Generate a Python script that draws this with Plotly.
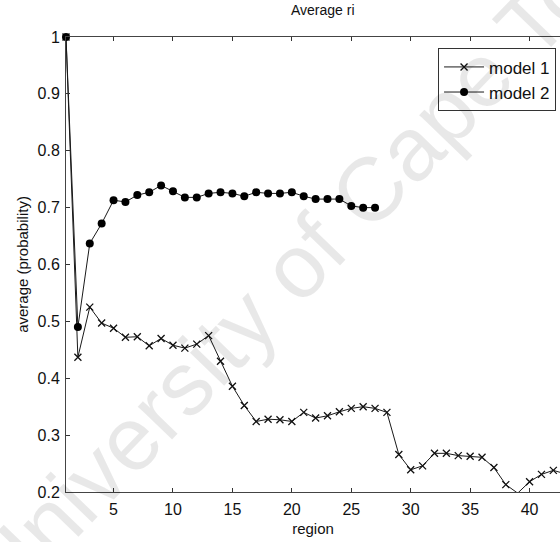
import plotly.graph_objects as go

# region index and average probability per model
regions_m1 = list(range(1, 44))
model1 = [1.0, 0.437, 0.525, 0.497, 0.488, 0.472, 0.473, 0.457, 0.470, 0.458,
          0.453, 0.460, 0.475, 0.430, 0.386, 0.352, 0.324, 0.328, 0.327, 0.324,
          0.340, 0.330, 0.334, 0.341, 0.347, 0.350, 0.347, 0.340, 0.266, 0.239,
          0.246, 0.268, 0.268, 0.264, 0.263, 0.261, 0.243, 0.213, 0.198, 0.218,
          0.231, 0.238, 0.232]

regions_m2 = list(range(1, 28))
model2 = [1.0, 0.490, 0.637, 0.672, 0.713, 0.710, 0.722, 0.727, 0.739, 0.729,
          0.718, 0.718, 0.725, 0.727, 0.725, 0.720, 0.727, 0.725, 0.725, 0.727,
          0.720, 0.715, 0.715, 0.715, 0.703, 0.700, 0.700]

x_ticks = [5, 10, 15, 20, 25, 30, 35, 40]
y_ticks = [0.2, 0.3, 0.4, 0.5, 0.6, 0.7, 0.8, 0.9, 1.0]
y_labels = ["0.2", "0.3", "0.4", "0.5", "0.6", "0.7", "0.8", "0.9", "1"]

FONT = "Liberation Sans, Arial, sans-serif"
INK = "#111111"

fig = go.Figure()
fig.add_trace(go.Scatter(
    x=regions_m1, y=model1, name="model 1", mode="lines+markers",
    line=dict(color="#1a1a1a", width=1),
    marker=dict(symbol="x-thin", size=7, line=dict(color="#111111", width=1.3)),
    cliponaxis=False,
))
fig.add_trace(go.Scatter(
    x=regions_m2, y=model2, name="model 2", mode="lines+markers",
    line=dict(color="#1a1a1a", width=1),
    marker=dict(symbol="circle", size=8, color="#000000"),
    cliponaxis=False,
))

fig.update_layout(
    width=560, height=542,
    margin=dict(l=66, r=0, t=37, b=50),
    paper_bgcolor="white", plot_bgcolor="white",
    font=dict(family=FONT, size=16, color=INK),
    showlegend=True,
    legend=dict(
        x=0.992, xanchor="right", y=0.975, yanchor="top",
        bgcolor="rgba(255,255,255,0.85)", bordercolor="#333333", borderwidth=1,
        font=dict(size=17, color=INK), itemwidth=40, tracegroupgap=0,
    ),
    xaxis=dict(
        range=[1, 42.56], tickvals=x_ticks, ticks="inside", ticklen=4,
        tickcolor="#333333", showline=True, linecolor="#444444", linewidth=1,
        mirror="ticks", showgrid=False, zeroline=False,
        title=dict(text="region", font=dict(size=15), standoff=6),
        ticklabelstandoff=3,
    ),
    yaxis=dict(
        range=[0.2, 1.0], tickvals=y_ticks, ticktext=y_labels, ticks="inside",
        ticklen=4, tickcolor="#333333", showline=True, linecolor="#444444",
        linewidth=1, mirror=False, showgrid=False, zeroline=False,
        title=dict(text="average (probability)", font=dict(size=15), standoff=5),
        ticklabelstandoff=2,
    ),
)

# plot title
fig.add_annotation(
    text="Average ri", xref="paper", yref="paper", x=0.52, y=1.0,
    yshift=17, xanchor="center", yanchor="bottom", showarrow=False,
    font=dict(size=14, color=INK),
)

# faint diagonal watermark across the page
fig.add_annotation(
    text="University of Cape Town", xref="paper", yref="paper",
    x=0.52, y=0.555, xanchor="center", yanchor="middle", showarrow=False,
    textangle=-46, font=dict(size=90, color="rgba(0,0,0,0.09)", family=FONT),
)

fig.write_html("out.html")
